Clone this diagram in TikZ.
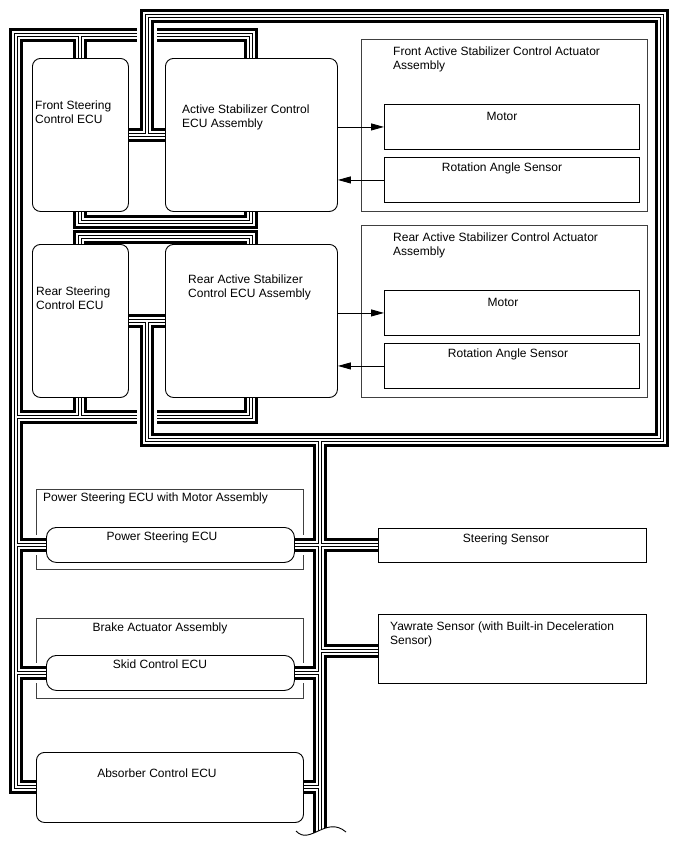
\documentclass[tikz,border=0pt]{standalone}
\usepackage{fontspec}
\setmainfont{Liberation Sans}
\usetikzlibrary{arrows.meta}
\pgfdeclarelayer{assylayer}
\pgfdeclarelayer{buslayer}
\pgfsetlayers{assylayer,buslayer,main}
\tikzset{
  halo/.style={line width=20pt, white},
  busa/.style={line width=14pt, black},
  busb/.style={line width=8pt, white},
  busc/.style={line width=4pt, black},
  busd/.style={line width=2pt, white},
  ecu/.style={draw, line width=0.9pt, rounded corners=8pt, fill=white, inner sep=0pt, anchor=north west},
  pillbox/.style={draw, line width=0.9pt, rounded corners=10pt, fill=white, inner sep=0pt, anchor=north west},
  plainbox/.style={draw, line width=0.9pt, fill=white, inner sep=0pt, anchor=north west},
  assy/.style={draw=black!75, line width=0.9pt, inner sep=0pt, anchor=north west},
  lbl/.style={inner sep=0pt, font=\fontsize{12}{14}\selectfont, align=left},
  sig/.style={line width=0.9pt, -{Triangle[length=13pt,width=7pt]}},
}
\newcommand\busgroupA[1]{%
  \draw[#1] (asecu.north) -- (asecu.north |- tl) -- (tl) -- (tl |- abs.west) -- (abs.west);
  \draw[#1] (fsecu.north |- tl) -- (fsecu.north);
  \draw[#1] (fsecu.south) -- ++(0,10) -| (asecu.south);
  \draw[#1] (rsecu.north) -- ++(0,-7) -| (rasecu.north);
  \draw[#1] (bl) -| (rasecu.south);
  \draw[#1] (rsecu.south |- bl) -- (rsecu.south);
  \draw[#1] (tl |- psecu.west) -- (psecu.west);
  \draw[#1] (tl |- skecu.west) -- (skecu.west);
}
\newcommand\busgroupB[1]{%
  \draw[#1] (ftl |- fsecu.east) -- (ftl) -| (fbr) -| (ftl |- rsecu.east);
  \draw[#1] (fsecu.east) -- (asecu.west);
  \draw[#1] (rsecu.east) -- (rasecu.west);
  \draw[#1] (vtop) -- (vend);
  \draw[#1] (psecu.east) -- (psecu.east -| steer.west);
  \draw[#1] (skecu.east) -- (skecu.east -| vtop);
  \draw[#1] (yawin -| vtop) -- (yawin);
  \draw[#1] (abs.east) -- (abs.east -| vtop);
}
\begin{document}
\begin{tikzpicture}[x=1pt,y=-1pt]
\useasboundingbox (0,0) rectangle (688,852);

% assembly frames
\begin{pgfonlayer}{assylayer}
\fill[white] (0,0) rectangle (688,852);
\node[assy, minimum width=286pt, minimum height=172pt] (fassy) at (361,39) {};
\node[assy, minimum width=286pt, minimum height=172pt] (rassy) at (361,225) {};
\node[assy, minimum width=267pt, minimum height=80pt] (psassy) at (36,489) {};
\node[assy, minimum width=267pt, minimum height=80pt] (brassy) at (36,618) {};
\end{pgfonlayer}

% ECUs and sensors
\node[ecu, minimum width=96pt, minimum height=153pt] (fsecu) at (32,58) {};
\node[ecu, minimum width=172pt, minimum height=153pt] (asecu) at (165,58) {};
\node[ecu, minimum width=96pt, minimum height=153pt] (rsecu) at (32,244) {};
\node[ecu, minimum width=172pt, minimum height=153pt] (rasecu) at (165,244) {};
\node[plainbox, minimum width=255pt, minimum height=45pt] (fmotor) at (384,104) {};
\node[plainbox, minimum width=255pt, minimum height=45pt] (fras) at (384,157) {};
\node[plainbox, minimum width=255pt, minimum height=45pt] (rmotor) at (384,290) {};
\node[plainbox, minimum width=255pt, minimum height=45pt] (rras) at (384,343) {};
\node[pillbox, minimum width=248pt, minimum height=35pt] (psecu) at (46,527) {};
\node[pillbox, minimum width=248pt, minimum height=35pt] (skecu) at (46,655) {};
\node[ecu, minimum width=267pt, minimum height=70pt] (abs) at (36,752) {};
\node[plainbox, minimum width=268pt, minimum height=34pt] (steer) at (378,528) {};
\node[plainbox, minimum width=268pt, minimum height=69pt] (yaw) at (378,614) {};

% bus reference points
\coordinate (tl) at (16,34.5);
\coordinate (bl) at (16,417);
\coordinate (ftl) at (147,16);
\coordinate (fbr) at (662,440);
\coordinate (vtop) at (320,440);
\coordinate (vend) at (320,845);
\coordinate (yawin) at (378,651);

\begin{pgfonlayer}{buslayer}
\busgroupA{halo}\busgroupA{busa}\busgroupA{busb}\busgroupA{busc}\busgroupA{busd}
\busgroupB{halo}\busgroupB{busa}\busgroupB{busb}\busgroupB{busc}\busgroupB{busd}
\end{pgfonlayer}

% break symbol at the bottom of the bus
\fill[white] (296,831) .. controls (310,846) and (326,815) .. (346,832) -- (346,852) -- (296,852) -- cycle;
\draw[line width=0.9pt] (296,831) .. controls (310,846) and (326,815) .. (346,832);

% signal arrows
\draw[sig] (asecu.east |- fmotor.west) -- (fmotor.west);
\draw[sig] (fras.west) -- (fras.west -| asecu.east);
\draw[sig] (rasecu.east |- rmotor.west) -- (rmotor.west);
\draw[sig] (rras.west) -- (rras.west -| rasecu.east);

% labels
\node[lbl, anchor=north west] (tfs) at (35,101) {Front Steering\\Control ECU};
\node[lbl, anchor=north west] (tas) at (182,105) {Active Stabilizer Control\\ECU Assembly};
\node[lbl, anchor=north west] (trs) at (36,287) {Rear Steering\\Control ECU};
\node[lbl, anchor=north west] (tras) at (188,275) {Rear Active Stabilizer\\Control ECU Assembly};
\node[lbl, anchor=north west] (tfa) at (393,47) {Front Active Stabilizer Control Actuator\\Assembly};
\node[lbl, anchor=north west] (tra) at (393,233) {Rear Active Stabilizer Control Actuator\\Assembly};
\node[lbl, anchor=north] (tfm) at (502,112) {Motor};
\node[lbl, anchor=north] (tfr) at (502,163) {Rotation Angle Sensor};
\node[lbl, anchor=north] (trm) at (503,298) {Motor};
\node[lbl, anchor=north] (trr) at (508,349) {Rotation Angle Sensor};
\node[lbl, anchor=north west] (tpsa) at (43,493) {Power Steering ECU with Motor Assembly};
\node[lbl, anchor=north] (tps) at (162,532) {Power Steering ECU};
\node[lbl, anchor=north] (tbr) at (160,623) {Brake Actuator Assembly};
\node[lbl, anchor=north] (tsk) at (160,660) {Skid Control ECU};
\node[lbl, anchor=north] (tab) at (157,769) {Absorber Control ECU};
\node[lbl, anchor=north] (tss) at (506,534) {Steering Sensor};
\node[lbl, anchor=north west] (tyw) at (390,622) {Yawrate Sensor (with Built-in Deceleration\\Sensor)};
\end{tikzpicture}
\end{document}
